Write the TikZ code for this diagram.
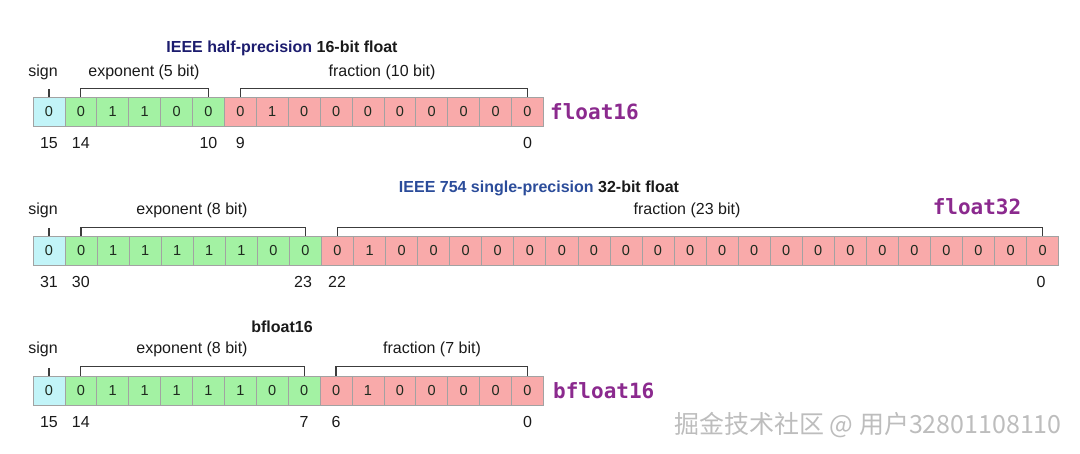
\documentclass[tikz,border=0pt]{standalone}
\usepackage{fontspec}
\setmainfont{Liberation Sans}
\newfontfamily\typefont{DejaVu Sans Mono}
\newfontfamily\cjk{Noto Sans CJK SC}
\definecolor{signfill}{HTML}{C2F4F8}
\definecolor{expfill}{HTML}{A3F2A3}
\definecolor{fracfill}{HTML}{F9AAAA}
\definecolor{cellline}{HTML}{A2A2A2}
\definecolor{cellink}{HTML}{1E2A1E}
\definecolor{labelink}{HTML}{1A1A1A}
\definecolor{halfink}{HTML}{1C1C6E}
\definecolor{singleink}{HTML}{2B4C9A}
\definecolor{typeink}{HTML}{8B2A8E}
\definecolor{markink}{HTML}{BDBDBD}

\begin{document}
\begin{tikzpicture}[x=1pt,y=-1pt,
  cell/.style={draw=cellline, line width=0.7pt, rectangle, minimum width=31.9pt, minimum height=29pt, inner sep=0pt, text=cellink, font=\fontsize{14.5}{14.5}\selectfont},
  signcell/.style={cell, fill=signfill},
  expcell/.style={cell, fill=expfill},
  fraccell/.style={cell, fill=fracfill},
  wide/.style={minimum width=32.05pt},
  field/.style={text=labelink, font=\fontsize{16}{16}\selectfont},
  bitnum/.style={field},
  title/.style={text=labelink, font=\fontsize{16}{16}\selectfont\bfseries},
  typename/.style={text=typeink, inner sep=0pt, font=\fontsize{21}{21}\selectfont\typefont\bfseries},
  bracket/.style={draw=labelink!85, line width=1.2pt},
  watermark/.style={text=markink, inner sep=0pt, font=\fontsize{25}{25}\selectfont\cjk}]
\useasboundingbox (0,0) rectangle (1080,454);

% float16
\node[title] (t16) at (282,48) {\textcolor{halfink}{IEEE half-precision} 16-bit float};
\node[field] (h-sign) at (43,72) {sign};
\node[field] (h-exp) at (144,72) {exponent (5 bit)};
\node[field] (h-frac) at (382,72) {fraction (10 bit)};
\node[signcell] (h15) at (48.95,112) {0};
\foreach \b [count=\i, evaluate=\i as \n using int(15-\i)] in {0,1,1,0,0}
  \node[expcell] (h\n) at (48.95+31.9*\i,112) {\b};
\foreach \b [count=\i from 6, evaluate=\i as \n using int(15-\i)] in {0,1,0,0,0,0,0,0,0,0}
  \node[fraccell] (h\n) at (48.95+31.9*\i,112) {\b};
\draw[bracket] (h15.north) -- ++(0,-8);
\draw[bracket] (h14.north) -- ++(0,-9) -| (h10.north);
\draw[bracket] (h9.north) -- ++(0,-9) -| (h0.north);
\node[bitnum] (h15n) at (48.95,143) {15};
\node[bitnum] (h14n) at (80.85,143) {14};
\node[bitnum] (h10n) at (208.45,143) {10};
\node[bitnum] (h9n) at (240.35,143) {9};
\node[bitnum] (h0n) at (527.45,143) {0};
\node[typename, anchor=west] (f16) at (550,112) {float16};

% float32
\node[title] (t32) at (539,188) {\textcolor{singleink}{IEEE 754 single-precision} 32-bit float};
\node[field] (s-sign) at (43,210) {sign};
\node[field] (s-exp) at (192,210) {exponent (8 bit)};
\node[field] (s-frac) at (687,210) {fraction (23 bit)};
\node[signcell, wide] (s31) at (49.03,251) {0};
\foreach \b [count=\i, evaluate=\i as \n using int(31-\i)] in {0,1,1,1,1,1,0,0}
  \node[expcell, wide] (s\n) at (49.03+32.05*\i,251) {\b};
\foreach \b [count=\i from 9, evaluate=\i as \n using int(31-\i)] in {0,1,0,0,0,0,0,0,0,0,0,0,0,0,0,0,0,0,0,0,0,0,0}
  \node[fraccell, wide] (s\n) at (49.03+32.05*\i,251) {\b};
\draw[bracket] (s31.north) -- ++(0,-8);
\draw[bracket] (s30.north) -- ++(0,-9) -| (s23.north);
\draw[bracket] (s22.north) -- ++(0,-9) -| (s0.north);
\node[bitnum] (s31n) at (48.95,282) {31};
\node[bitnum] (s30n) at (80.85,282) {30};
\node[bitnum] (s23n) at (303,282) {23};
\node[bitnum] (s22n) at (337,282) {22};
\node[bitnum] (s0n) at (1041,282) {0};
\node[typename] (f32) at (977,207) {float32};

% bfloat16
\node[title] (tb16) at (282,327) {bfloat16};
\node[field] (b-sign) at (43,349) {sign};
\node[field] (b-exp) at (192,349) {exponent (8 bit)};
\node[field] (b-frac) at (432,349) {fraction (7 bit)};
\node[signcell] (b15) at (48.95,390.5) {0};
\foreach \b [count=\i, evaluate=\i as \n using int(15-\i)] in {0,1,1,1,1,1,0,0}
  \node[expcell] (b\n) at (48.95+31.9*\i,390.5) {\b};
\foreach \b [count=\i from 9, evaluate=\i as \n using int(15-\i)] in {0,1,0,0,0,0,0}
  \node[fraccell] (b\n) at (48.95+31.9*\i,390.5) {\b};
\draw[bracket] (b15.north) -- ++(0,-8);
\draw[bracket] (b14.north) -- ++(0,-9) -| (b7.north);
\draw[bracket] (b6.north) -- ++(0,-9) -| (b0.north);
\node[bitnum] (b15n) at (48.95,422) {15};
\node[bitnum] (b14n) at (80.85,422) {14};
\node[bitnum] (b7n) at (304.15,422) {7};
\node[bitnum] (b6n) at (336.05,422) {6};
\node[bitnum] (b0n) at (527.45,422) {0};
\node[typename, anchor=west] (fb16) at (553,390.5) {bfloat16};

\node[watermark, anchor=west] (wm) at (674,425) {掘金技术社区 @ 用户32801108110};
\end{tikzpicture}
\end{document}
